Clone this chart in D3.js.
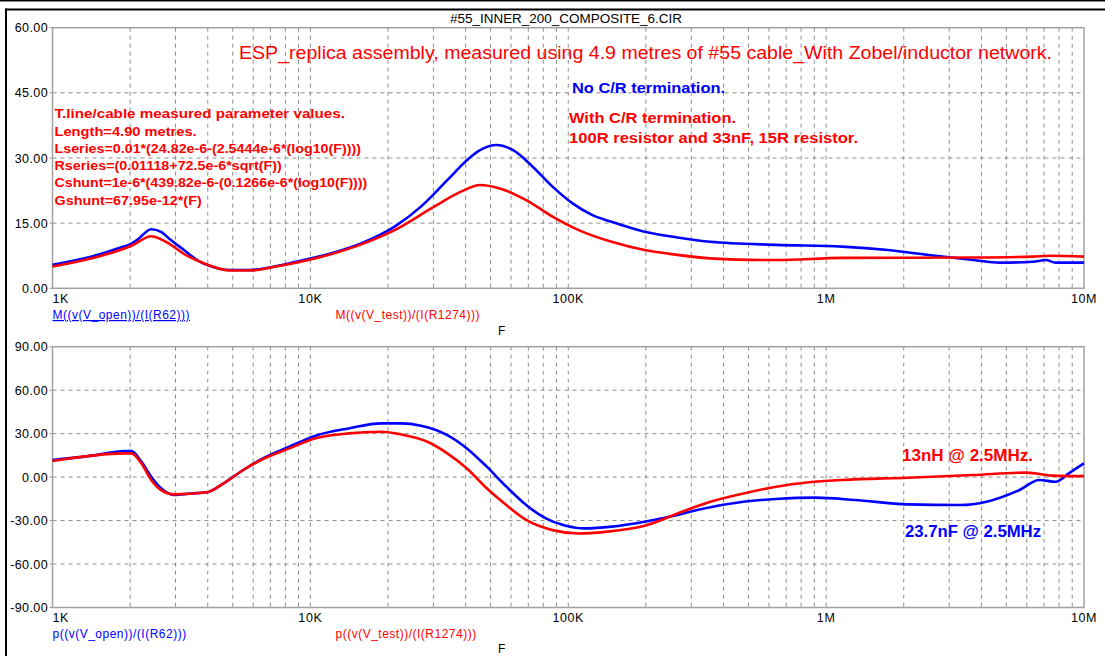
<!DOCTYPE html>
<html><head><meta charset="utf-8">
<script src="https://cdnjs.cloudflare.com/ajax/libs/d3/7.8.5/d3.min.js"></script>
<style>
html,body{margin:0;padding:0;background:#fff;}
svg{display:block;}
text{font-family:"Liberation Sans", Arial, sans-serif;}
</style></head><body>
<svg id="chart" width="1105" height="656"></svg>
<script>
// ---------- data ----------
const magOpenFreq = [1000,1422,1800,2024,2146,2414,2636,2878,3236,3640,4094,4884,5821,6950,8790,11790,15810,21220,26840,33960,40460,45500,52700,61100,72800,86900,103600,123600,147300,197700,265000,355600,640000,1151000,1738000,2472000,3726000,4713000,6324000,7112000,7762000,10000000];
const magOpenVal  = [5.4,7.3,9.2,10.3,11.3,13.6,13.0,11.1,8.8,6.5,5.1,4.2,4.2,4.8,6.1,7.9,10.4,14.2,18.8,24.9,29.5,31.8,33.0,31.8,28.0,23.4,19.6,16.9,15.3,13.0,11.7,10.7,10.0,9.6,8.8,7.7,6.5,5.9,6.1,6.5,5.9,5.9];
const magTestFreq = [1000,1422,2024,2414,2878,3236,3862,4884,5821,7362,10480,14900,21220,30200,38190,45500,54300,68700,86900,109800,147300,197700,265000,355600,450000,640000,1151000,3726000,6324000,7328000,10000000];
const magTestVal  = [5.0,6.9,9.8,12.0,10.0,7.9,5.75,4.1,4.1,5.0,6.9,9.6,13.4,18.8,22.2,23.8,23.0,20.3,16.5,13.4,10.7,8.8,7.7,6.9,6.6,6.5,7.0,7.1,7.3,7.5,7.3];
const phOpenFreq  = [1000,1422,1909,2024,2210,2414,2636,2965,3434,3975,4603,5495,6546,8283,10480,14060,18870,22490,26840,33960,40460,48300,57540,68700,81900,97700,116500,147300,197700,265000,316200,477500,640000,910000,1294000,2070000,3311000,4190000,5623000,6714000,7762000,8735000,10000000];
const phOpenVal   = [11.8,14.8,18.0,18.0,10.7,0.3,-7.7,-12.3,-11.3,-10.5,-4.3,4.9,12.9,21.0,28.6,33.6,37.1,37.1,35.5,29.0,19.8,7.2,-6.6,-19.3,-28.5,-33.5,-35.4,-34.2,-30.8,-26.2,-22.7,-17.0,-15.1,-14.2,-15.8,-18.8,-19.3,-17.0,-8.9,-2.0,-3.2,2.6,9.5];
const phTestFreq  = [1000,1909,2024,2210,2414,2636,2965,3975,4603,5495,6546,8283,10480,14060,18870,22490,28440,33960,40460,48300,57540,68700,86900,109800,139000,197700,281200,355600,477500,640000,858600,1151000,2070000,3726000,5970000,7551000,8492000,10000000];
const phTestVal   = [11.1,16.4,16.4,9.5,-2.0,-9.0,-11.9,-10.5,-4.3,4.9,12.5,19.8,26.8,30.2,31.3,29.5,24.4,16.4,6.0,-7.7,-19.3,-29.6,-36.6,-38.9,-37.8,-33.6,-23.4,-17.0,-11.3,-6.6,-3.6,-2.0,-0.4,1.4,3.1,1.0,0.7,0.7];

const freqTicks = [1e3,1e4,1e5,1e6,1e7];
const freqTickLabels = ["1K","10K","100K","1M","10M"];
const magTicks = [0,15,30,45,60];
const phaseTicks = [-90,-60,-30,0,30,60,90];

const fileTitle = "#55_INNER_200_COMPOSITE_6.CIR";
const mainTitle = "ESP_replica assembly, measured using 4.9 metres of #55 cable_With Zobel/inductor network.";
const paramLines = ["T.line/cable measured parameter values.","Length=4.90 metres.","Lseries=0.01*(24.82e-6-(2.5444e-6*(log10(F))))","Rseries=(0.01118+72.5e-6*sqrt(F))","Cshunt=1e-6*(439.82e-6-(0.1266e-6*(log10(F))))","Gshunt=67.95e-12*(F)"];
const magLegend = ["M((v(V_open))/(I(R62)))","M((v(V_test))/(I(R1274)))"];
const phLegend = ["p((v(V_open))/(I(R62)))","p((v(V_test))/(I(R1274)))"];

// ---------- drawing ----------
const svg = d3.select("#chart");
const BLUE = "#0000ff", RED = "#ff0000", GRID = "#8c8c8c", FRAME = "#a0a0a0";

// outer window frame
svg.append("rect").attr("x",0).attr("y",0).attr("width",1105).attr("height",1.5).attr("fill","#000");
svg.append("rect").attr("x",5).attr("y",8.5).attr("width",1100).attr("height",2).attr("fill","#000");
svg.append("rect").attr("x",5).attr("y",8.5).attr("width",2).attr("height",648).attr("fill","#000");

const x = d3.scaleLog().domain([1e3,1e7]).range([52.5,1084]);
const yMag = d3.scaleLinear().domain([0,60]).range([288.3,27.7]);
const yPh = d3.scaleLinear().domain([-90,90]).range([607.5,346.7]);

function panel(y, ticks, openF, openV, testF, testV, legend, underline, tickBase, legendBase, fBase) {
  const g = svg.append("g");
  const [y0, y1] = y.range(); // bottom, top
  const minor = x.ticks(40).filter(f => f > 1e3 && f < 1e7);
  g.selectAll(".vg").data(minor).enter().append("line")
    .attr("x1", d => x(d)).attr("x2", d => x(d)).attr("y1", y1).attr("y2", y0)
    .attr("stroke", GRID).attr("stroke-width", 1).attr("stroke-dasharray", "4,4");
  g.selectAll(".hg").data(ticks.slice(1, -1)).enter().append("line")
    .attr("x1", 52.5).attr("x2", 1084).attr("y1", d => y(d)).attr("y2", d => y(d))
    .attr("stroke", GRID).attr("stroke-width", 1).attr("stroke-dasharray", "4,4");
  g.append("rect").attr("x", 52.5).attr("y", y1).attr("width", 1084 - 52.5).attr("height", y0 - y1)
    .attr("fill", "none").attr("stroke", FRAME).attr("stroke-width", 1.5);
  // y tick labels
  g.selectAll(".yl").data(ticks).enter().append("text")
    .attr("x", 48).attr("y", d => y(d) + 4.5).attr("text-anchor", "end")
    .attr("font-size", 12.5).attr("letter-spacing", 0.4).attr("fill", "#000")
    .text(d => d.toFixed(2));
  g.selectAll(".yt").data(ticks).enter().append("line")
    .attr("x1", 49.5).attr("x2", 52.5).attr("y1", d => y(d)).attr("y2", d => y(d))
    .attr("stroke", FRAME).attr("stroke-width", 1);
  // x tick labels
  g.selectAll(".xl").data(freqTicks).enter().append("text")
    .attr("x", (d, i) => i === 0 ? x(d) : x(d))
    .attr("y", tickBase)
    .attr("text-anchor", (d, i) => i === 0 ? "start" : "middle")
    .attr("font-size", 12.5).attr("letter-spacing", 0.6).attr("fill", "#000")
    .text((d, i) => freqTickLabels[i]);
  // curves
  const line = d3.line().x(d => x(d[0])).y(d => y(d[1])).curve(d3.curveMonotoneX);
  g.append("path").datum(d3.zip(openF, openV)).attr("d", line)
    .attr("fill", "none").attr("stroke", BLUE).attr("stroke-width", 2.6).attr("stroke-linejoin", "round");
  g.append("path").datum(d3.zip(testF, testV)).attr("d", line)
    .attr("fill", "none").attr("stroke", RED).attr("stroke-width", 2.6).attr("stroke-linejoin", "round");
  // legend
  g.append("text").attr("x", 52.5).attr("y", legendBase).attr("font-size", 12).attr("letter-spacing", 0.5)
    .attr("fill", BLUE).attr("text-decoration", underline ? "underline" : "none").text(legend[0]);
  g.append("text").attr("x", 335.5).attr("y", legendBase).attr("font-size", 12).attr("letter-spacing", 0.5)
    .attr("fill", RED).text(legend[1]);
  g.append("text").attr("x", 498).attr("y", fBase).attr("font-size", 12).attr("fill", "#000").text("F");
}

panel(yMag, magTicks, magOpenFreq, magOpenVal, magTestFreq, magTestVal, magLegend, true, 303, 319, 335);
panel(yPh, phaseTicks, phOpenFreq, phOpenVal, phTestFreq, phTestVal, phLegend, false, 622, 638, 653);

// texts
function txt(s, x0, yb, size, color, bold, width) {
  const t = svg.append("text").attr("x", x0).attr("y", yb).attr("font-size", size)
    .attr("fill", color).attr("font-weight", bold ? "bold" : "normal").text(s);
  if (width) t.attr("textLength", width).attr("lengthAdjust", "spacingAndGlyphs");
  return t;
}
txt(fileTitle, 450, 23, 12, "#000", false, 232);
txt(mainTitle, 239, 59.3, 17.5, RED, false, 813);
const paramBase = [118.3, 136, 152.7, 170, 187.3, 204.7];
const paramEnd = [345, 196.7, 361, 281.7, 367.3, 201.7];
paramLines.forEach((s, i) => txt(s, 54.5, paramBase[i], 13.5, RED, true, paramEnd[i] - 54.5));
txt("No C/R termination.", 572, 92.5, 14.5, BLUE, true, 153);
txt("With C/R termination.", 569, 123.3, 14.5, RED, true, 167);
txt("100R resistor and 33nF, 15R resistor.", 569, 142.7, 14.5, RED, true, 289);
txt("13nH @ 2.5MHz.", 902, 460.7, 16, RED, true, 131);
txt("23.7nF @ 2.5MHz", 905, 537.3, 16, BLUE, true, 136);
</script>
</body></html>
